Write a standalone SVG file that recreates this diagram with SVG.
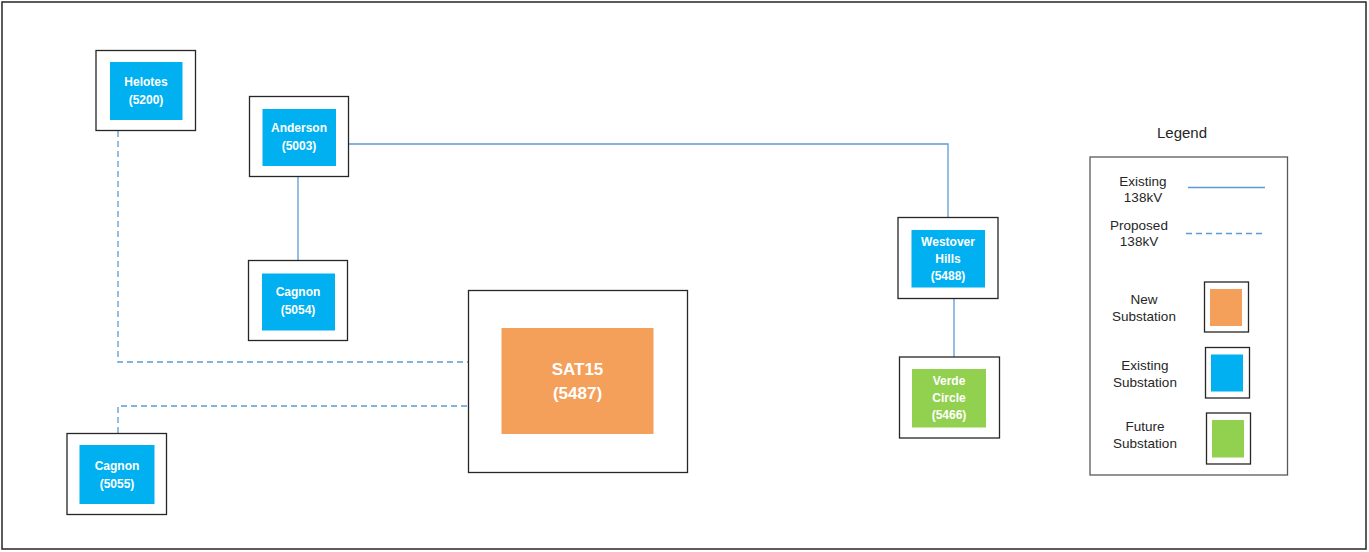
<svg xmlns="http://www.w3.org/2000/svg" width="1369" height="552" viewBox="0 0 1369 552">
<style>
.frame{fill:#fff;stroke:#262626;stroke-width:1.3}
.ex{fill:#00B0F0}
.nw{fill:#F4A05A}
.fu{fill:#92D050}
.lbl{font-family:"Liberation Sans",Arial,sans-serif;font-size:12px;font-weight:bold;fill:#fff;text-anchor:middle}
.big{font-size:17px}
.leg{font-family:"Liberation Sans",Arial,sans-serif;font-size:13.5px;fill:#262626;text-anchor:middle}
.solid{fill:none;stroke:#5B9BD5;stroke-width:1.3}
.dash{fill:none;stroke:#5B9BD5;stroke-width:1.3;stroke-dasharray:6 4}
</style>
<rect x="0" y="0" width="1369" height="552" fill="#fff"/>
<rect x="2" y="2" width="1364" height="547" fill="none" stroke="#262626" stroke-width="1.5"/>
<g id="connectors">
<path class="dash" d="M118 131 V362 H468"/>
<path class="dash" d="M118 433 V406 H468"/>
<path class="solid" d="M349 144 H948 V217"/>
<path class="solid" d="M298 177 V260"/>
<path class="solid" d="M954 298 V357"/>
</g>
<g id="helotes">
<rect class="frame" x="96" y="50.5" width="99.5" height="80"/>
<rect class="ex" x="110" y="62" width="72.5" height="58"/>
<text class="lbl" x="146" y="86">Helotes</text>
<text class="lbl" x="146" y="104">(5200)</text>
</g>
<g id="anderson">
<rect class="frame" x="249.5" y="96.5" width="99" height="80"/>
<rect class="ex" x="262.5" y="109" width="73.5" height="57"/>
<text class="lbl" x="299" y="132">Anderson</text>
<text class="lbl" x="299" y="150">(5003)</text>
</g>
<g id="cagnon5054">
<rect class="frame" x="248.5" y="260.5" width="99" height="80"/>
<rect class="ex" x="262" y="273.5" width="73" height="57"/>
<text class="lbl" x="298" y="296">Cagnon</text>
<text class="lbl" x="298" y="314">(5054)</text>
</g>
<g id="sat15">
<rect class="frame" x="468.5" y="290.5" width="219" height="182"/>
<rect class="nw" x="501.5" y="328" width="152" height="106"/>
<text class="lbl big" x="577.5" y="375">SAT15</text>
<text class="lbl big" x="577.5" y="399">(5487)</text>
</g>
<g id="cagnon5055">
<rect class="frame" x="67" y="433.5" width="99.5" height="81"/>
<rect class="ex" x="79.5" y="445" width="75" height="59"/>
<text class="lbl" x="117" y="470">Cagnon</text>
<text class="lbl" x="117" y="488">(5055)</text>
</g>
<g id="westover">
<rect class="frame" x="898" y="217.5" width="100" height="81"/>
<rect class="ex" x="911.5" y="230" width="73.5" height="57.5"/>
<text class="lbl" x="948" y="246">Westover</text>
<text class="lbl" x="948" y="263">Hills</text>
<text class="lbl" x="948" y="280">(5488)</text>
</g>
<g id="verde">
<rect class="frame" x="899.5" y="357" width="100" height="81"/>
<rect class="fu" x="912" y="369" width="74" height="58.5"/>
<text class="lbl" x="949" y="385">Verde</text>
<text class="lbl" x="949" y="402">Circle</text>
<text class="lbl" x="949" y="419">(5466)</text>
</g>
<g id="legend">
<text class="leg" x="1182" y="138" style="font-size:15px">Legend</text>
<rect x="1090" y="157" width="197.5" height="318" fill="#fff" stroke="#595959" stroke-width="1.3"/>
<text class="leg" x="1143" y="186">Existing</text>
<text class="leg" x="1143" y="202">138kV</text>
<line class="solid" x1="1188" y1="187.5" x2="1265" y2="187.5"/>
<text class="leg" x="1139" y="230">Proposed</text>
<text class="leg" x="1139" y="246">138kV</text>
<line class="dash" x1="1186" y1="233.5" x2="1265" y2="233.5"/>
<text class="leg" x="1144" y="304">New</text>
<text class="leg" x="1144" y="321">Substation</text>
<rect class="frame" x="1204.5" y="282" width="44" height="50"/>
<rect class="nw" x="1210" y="289" width="32" height="37"/>
<text class="leg" x="1145" y="370">Existing</text>
<text class="leg" x="1145" y="387">Substation</text>
<rect class="frame" x="1205.5" y="347.5" width="44" height="50.5"/>
<rect class="ex" x="1211" y="354.5" width="32" height="37"/>
<text class="leg" x="1145" y="431">Future</text>
<text class="leg" x="1145" y="448">Substation</text>
<rect class="frame" x="1206.5" y="413" width="44" height="51"/>
<rect class="fu" x="1212" y="420" width="32" height="37.5"/>
</g>
</svg>
